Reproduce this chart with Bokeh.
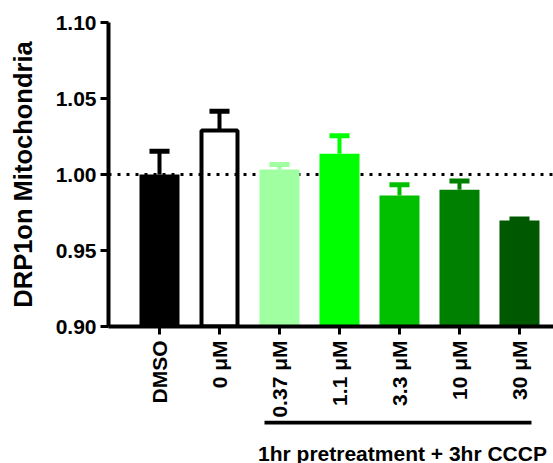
import math
from bokeh.plotting import figure
from bokeh.layouts import column
from bokeh.models import (Range1d, FixedTicker, Span, ColumnDataSource, NumeralTickFormatter)
from bokeh.core.properties import value
from bokeh.embed import file_html
from bokeh.resources import INLINE

# ---- data ----
categories = ["DMSO", "0 \u03bcM", "0.37 \u03bcM", "1.1 \u03bcM", "3.3 \u03bcM", "10 \u03bcM", "30 \u03bcM"]
means = [1.000, 1.029, 1.0033, 1.0136, 0.9862, 0.9899, 0.9697]
sems = [0.0153, 0.0126, 0.0032, 0.0119, 0.0070, 0.0058, 0.0010]
fill_colors = ["#000000", "#ffffff", "#a0ffa0", "#00ff00", "#00c000", "#008000", "#005800"]
y_ticks = [0.90, 0.95, 1.00, 1.05, 1.10]
group_label = "1hr pretreatment + 3hr CCCP"
group_span = [1.75, 6.2]   # treated group, in category positions
y_label = "DRP1on Mitochondria"

FONT = "Liberation Sans"
FS = "21px"

xs = list(range(len(categories)))
tops = [m + s for m, s in zip(means, sems)]
err_colors = ["#000000", "#000000"] + fill_colors[2:]

xr = Range1d(-0.85, 6.567)
p = figure(width=553, height=420, output_backend="svg", toolbar_location=None,
           x_range=xr, y_range=Range1d(0.90, 1.10),
           min_border_left=108, min_border_right=0, min_border_top=22, min_border_bottom=94)
p.outline_line_color = None
p.grid.visible = False
p.background_fill_color = "white"

# reference dotted line at 1.0 (behind bars)
p.add_layout(Span(location=1.0, dimension="width", line_color="black", line_width=3,
                  line_dash="3 6", level="underlay"))

# filled bars (all except 0 uM)
fill_idx = [i for i in xs if i != 1]
src = ColumnDataSource(dict(x=[xs[i] for i in fill_idx], top=[means[i] for i in fill_idx],
                            color=[fill_colors[i] for i in fill_idx]))
p.vbar(x="x", top="top", bottom=0.90, width=0.667, fill_color="color", line_color=None, source=src)
# open bar (0 uM)
p.vbar(x=[xs[1]], top=[means[1]], bottom=0.90, width=0.6, fill_color=None,
       line_color="black", line_width=4)

# error bars (upper only)
esrc = ColumnDataSource(dict(x=xs, y0=means, y1=tops, x0=[x - 0.167 for x in xs],
                             x1=[x + 0.167 for x in xs], color=err_colors))
p.segment(x0="x", y0="y0", x1="x", y1="y1", line_color="color", line_width=4, source=esrc)
p.segment(x0="x0", y0="y1", x1="x1", y1="y1", line_color="color", line_width=5,
          line_cap="butt", source=esrc)

# axes
for ax in (p.xaxis[0], p.yaxis[0]):
    ax.axis_line_width = 4
    ax.major_tick_line_width = 3
    ax.major_tick_out = 8
    ax.major_tick_in = 0
    ax.minor_tick_line_color = None
    ax.major_label_text_font = FONT
    ax.major_label_text_font_style = "bold"
    ax.major_label_text_font_size = FS
    ax.major_label_text_color = "black"

p.xaxis.ticker = FixedTicker(ticks=xs)
p.xaxis.major_label_overrides = {i: c for i, c in enumerate(categories)}
p.xaxis.major_label_orientation = math.pi / 2
p.xaxis.major_label_standoff = 6

p.yaxis.ticker = FixedTicker(ticks=y_ticks)
p.yaxis.formatter = NumeralTickFormatter(format="0.00")
p.yaxis.major_label_standoff = 4
p.yaxis.axis_label = y_label
p.yaxis.axis_label_text_font = FONT
p.yaxis.axis_label_text_font_style = "bold"
p.yaxis.axis_label_text_font_size = "25.5px"
p.yaxis.axis_label_text_color = "black"
p.yaxis.axis_label_standoff = 16

# ---- group bracket + label in a strip below ----
p2 = figure(width=553, height=43, output_backend="svg", toolbar_location=None,
            x_range=xr, y_range=Range1d(-43, 0), x_axis_type=None, y_axis_type=None,
            min_border_left=108, min_border_right=0, min_border_top=0, min_border_bottom=0)
p2.outline_line_color = None
p2.grid.visible = False
p2.segment(x0=[group_span[0]], y0=[-2], x1=[group_span[1]], y1=[-2],
           line_color="black", line_width=4, line_cap="butt")
p2.text(x=[sum(group_span) / 2 + 0.075], y=[-33], text=[group_label], text_align="center",
        text_baseline="alphabetic", text_font=value(FONT), text_font_style="bold",
        text_font_size=FS, text_color="black")

layout = column(p, p2, spacing=0)
open("out.html", "w").write(file_html(layout, INLINE))
